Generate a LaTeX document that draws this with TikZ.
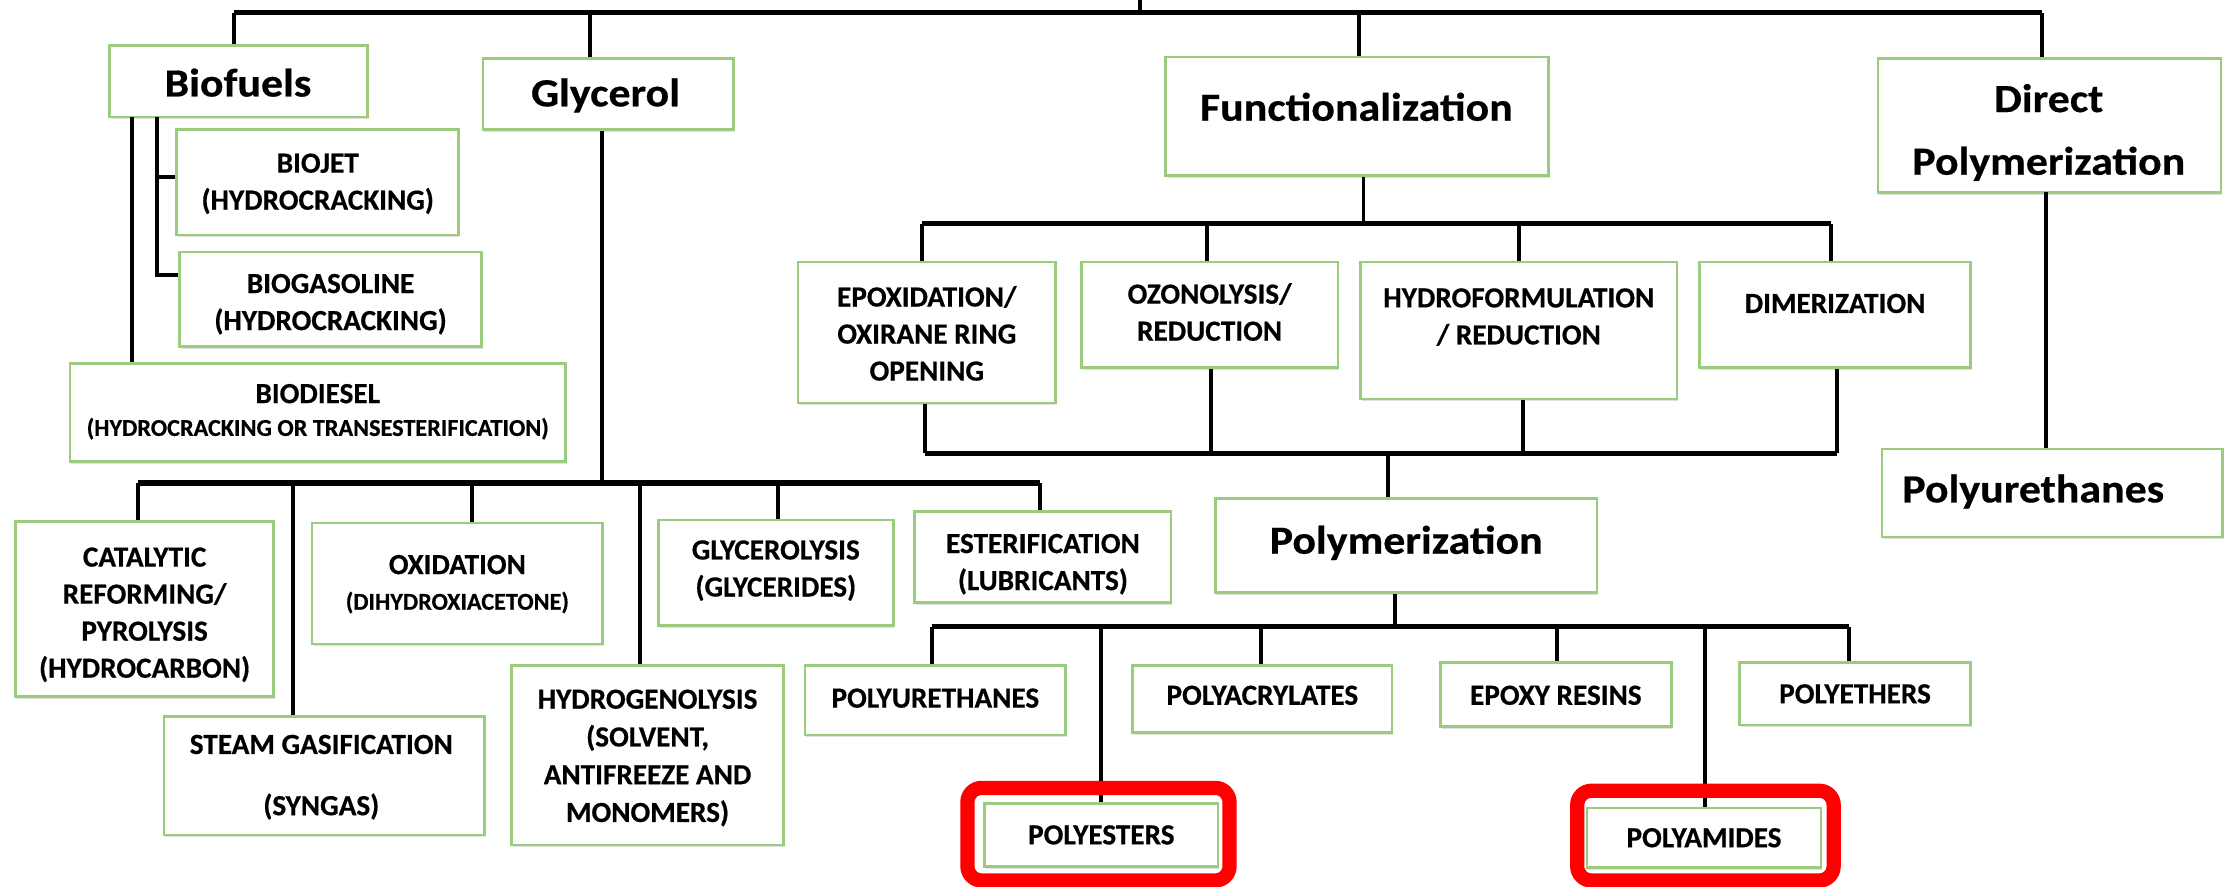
\documentclass[tikz,border=0pt]{standalone}
\usepackage{fontspec}
\setmainfont{Carlito}
\newfontfamily\bigfont{Carlito}[FakeStretch=1.1, BoldFeatures={FakeBold=0.5}]
\newfontfamily\smfont{Carlito}[BoldFeatures={FakeBold=0.5}]
\usetikzlibrary{fit,shadows}
\definecolor{boxgreen}{RGB}{155,204,125}
\definecolor{hired}{RGB}{255,0,0}
\tikzset{
  box/.style={draw=boxgreen, line width=1.8pt, fill=white, inner sep=0pt,
    drop shadow={shadow xshift=0.8pt, shadow yshift=-1.6pt, opacity=0.25, fill=black!45}},
  conn/.style={line width=2.8pt, black},
  bus/.style={line width=3.6pt, black},
  big/.style={font=\bigfont\bfseries\fontsize{28}{44}\selectfont, align=center, inner sep=0pt},
  sm/.style={font=\smfont\bfseries\fontsize{20.5}{26}\selectfont, align=center, inner sep=0pt},
  hl/.style={draw=hired, line width=10pt, rounded corners=10pt, inner sep=0pt},
}
\newcommand{\tny}{\fontsize{17}{20}\selectfont}
\begin{document}
\begin{tikzpicture}[x=1pt,y=-1pt]
\useasboundingbox[fill=white] (0,0) rectangle (1568,622);

% ---- boxes ----
\node[box, fit={(77,32)(258,82)}] (biofuels) {};
\node[box, fit={(339,41)(515,91)}] (glycerol) {};
\node[box, fit={(818,40)(1087,123)}] (functionalization) {};
\node[box, fit={(1318,41)(1559,135)}] (direct) {};
\node[box, fit={(124,91)(322,165)}] (biojet) {};
\node[box, fit={(126,177)(338,243)}] (biogasoline) {};
\node[box, fit={(49,255)(397,324)}] (biodiesel) {};
\node[box, fit={(11,366)(192,489)}] (catalytic) {};
\node[box, fit={(115,503)(340,586)}] (steam) {};
\node[box, fit={(219,367)(423,452)}] (oxidation) {};
\node[box, fit={(359,467)(550,593)}] (hydrogenolysis) {};
\node[box, fit={(462,365)(627,439)}] (glycerolysis) {};
\node[box, fit={(642,359)(822,423)}] (esterification) {};
\node[box, fit={(560,184)(741,283)}] (epox) {};
\node[box, fit={(759,184)(939,258)}] (ozon) {};
\node[box, fit={(955,184)(1177,280)}] (hydrof) {};
\node[box, fit={(1193,184)(1383,258)}] (dimer) {};
\node[box, fit={(853,350)(1121,416)}] (polymerization) {};
\node[box, fit={(1321,315)(1560,377)}] (pubig) {};
\node[box, fit={(565,467)(748,516)}] (pu) {};
\node[box, fit={(691,564)(855,608)}] (polyesters) {};
\node[box, fit={(795,467)(977,514)}] (polyacrylates) {};
\node[box, fit={(1011,465)(1173,510)}] (epoxy) {};
\node[box, fit={(1114,567)(1278,609)}] (polyamides) {};
\node[box, fit={(1221,465)(1383,509)}] (polyethers) {};

% ---- texts ----
\node[big] (t1) at (167,58) {Biofuels};
\node[big] (t2) at (425,67) {Glycerol};
\node[big] (t3) at (952,75) {Functionalization};
\node[big] (t4) at (1438,93) {Direct\\Polymerization};
\node[big, anchor=west] (t5) at (1335,345) {Polyurethanes};
\node[big] (t6) at (987,381) {Polymerization};

\node[sm] (s1) at (223,129) {BIOJET\\(HYDROCRACKING)};
\node[sm] (s2) at (232,213.5) {BIOGASOLINE\\(HYDROCRACKING)};
\node[sm, font=\smfont\bfseries\fontsize{20.5}{23}\selectfont] (s3) at (223,289) {BIODIESEL\\{\tny (HYDROCRACKING OR TRANSESTERIFICATION)}};
\node[sm] (s4) at (101.5,431.5) {CATALYTIC\\REFORMING/\\PYROLYSIS\\(HYDROCARBON)};
\node[sm] (s5) at (225.5,545.5) {STEAM GASIFICATION\\[17pt](SYNGAS)};
\node[sm, font=\smfont\bfseries\fontsize{20.5}{25}\selectfont] (s6) at (321,410) {OXIDATION\\{\tny (DIHYDROXIACETONE)}};
\node[sm, font=\smfont\bfseries\fontsize{20.5}{26.5}\selectfont] (s7) at (454.5,532) {HYDROGENOLYSIS\\(SOLVENT,\\ANTIFREEZE AND\\MONOMERS)};
\node[sm] (s8) at (544.5,400.5) {GLYCEROLYSIS\\(GLYCERIDES)};
\node[sm] (s9) at (732,396) {ESTERIFICATION\\(LUBRICANTS)};
\node[sm] (s10) at (650.5,234) {EPOXIDATION/\\OXIRANE RING\\OPENING};
\node[sm] (s11) at (849,219) {OZONOLYSIS/\\REDUCTION};
\node[sm] (s12) at (1066,222.5) {HYDROFORMULATION\\/ REDUCTION};
\node[sm] (s13) at (1288,213) {DIMERIZATION};
\node[sm] (s14) at (656.5,490) {POLYURETHANES};
\node[sm] (s15) at (773,586) {POLYESTERS};
\node[sm] (s16) at (886,488) {POLYACRYLATES};
\node[sm] (s17) at (1092,488) {EPOXY RESINS};
\node[sm] (s18) at (1196,588) {POLYAMIDES};
\node[sm] (s19) at (1302,487) {POLYETHERS};

% ---- top level ----
\coordinate (root) at (800,0);
\coordinate (topL) at (164,9);
\coordinate (topR) at (1433,9);
\coordinate (jGly) at (414,9);
\coordinate (jFun) at (954,9);
\draw[bus] (topL) -- (topR);
\draw[conn] (root) -- (root |- topL);
\draw[conn] (topL) -- (topL |- biofuels.north);
\draw[conn] (jGly) -- (jGly |- glycerol.north);
\draw[conn] (jFun) -- (jFun |- functionalization.north);
\draw[conn] (topR) -- (topR |- direct.north);

% ---- biofuels ----
\coordinate (bfA) at (92.5,82);
\coordinate (bfB) at (110,82);
\draw[conn] (bfA) -- (bfA |- biodiesel.north);
\draw[conn] (bfB) |- ([yshift=4pt]biojet.west);
\draw[conn] (bfB) |- ([yshift=17pt]biogasoline.west);

% ---- glycerol ----
\coordinate (gbL) at (97,339);
\coordinate (gbR) at (730,339);
\coordinate (gDown) at (422.6,339);
\draw[conn] (gDown |- glycerol.south) -- (gDown);
\draw[bus] (gbL) -- (gbR);
\coordinate (jSteam) at (205.5,339);
\coordinate (jOx) at (331,339);
\coordinate (jHyd) at (449,339);
\coordinate (jGlys) at (546,339);
\draw[conn] (gbL) -- (gbL |- catalytic.north);
\draw[conn] (jSteam) -- (jSteam |- steam.north);
\draw[conn] (jOx) -- (jOx |- oxidation.north);
\draw[conn] (jHyd) -- (jHyd |- hydrogenolysis.north);
\draw[conn] (jGlys) -- (jGlys |- glycerolysis.north);
\draw[conn] (gbR) -- (gbR |- esterification.north);

% ---- functionalization ----
\coordinate (fbL) at (647,157);
\coordinate (fbR) at (1285,157);
\coordinate (fDown) at (957,157);
\coordinate (jOz) at (847,157);
\coordinate (jHf) at (1066,157);
\draw[conn] (fDown |- functionalization.south) -- (fDown);
\draw[bus] (fbL) -- (fbR);
\draw[conn] (fbL) -- (fbL |- epox.north);
\draw[conn] (jOz) -- (jOz |- ozon.north);
\draw[conn] (jHf) -- (jHf |- hydrof.north);
\draw[conn] (fbR) -- (fbR |- dimer.north);

\coordinate (lbL) at (649,318);
\coordinate (lbR) at (1289,318);
\coordinate (lOz) at (850,318);
\coordinate (lHf) at (1069,318);
\coordinate (lDown) at (974,318);
\draw[bus] (lbL) -- (lbR);
\draw[conn] (lbL |- epox.south) -- (lbL);
\draw[conn] (lOz |- ozon.south) -- (lOz);
\draw[conn] (lHf |- hydrof.south) -- (lHf);
\draw[conn] (lbR |- dimer.south) -- (lbR);
\draw[conn] (lDown) -- (lDown |- polymerization.north);

% ---- polymerization ----
\coordinate (pbL) at (654,440);
\coordinate (pbR) at (1298,440);
\coordinate (pDown) at (979,440);
\coordinate (jPes) at (773,440);
\coordinate (jPac) at (885,440);
\coordinate (jEp) at (1093,440);
\coordinate (jPam) at (1197,440);
\draw[conn] (pDown |- polymerization.south) -- (pDown);
\draw[bus] (pbL) -- (pbR);
\draw[conn] (pbL) -- (pbL |- pu.north);
\draw[conn] (jPes) -- (jPes |- polyesters.north);
\draw[conn] (jPac) -- (jPac |- polyacrylates.north);
\draw[conn] (jEp) -- (jEp |- epoxy.north);
\draw[conn] (jPam) -- (jPam |- polyamides.north);
\draw[conn] (pbR) -- (pbR |- polyethers.north);

% ---- direct polymerization ----
\coordinate (dDown) at (1436,135);
\draw[conn] (dDown) -- (dDown |- pubig.north);

% ---- highlights ----
\node[hl, fit={(679,553)(863,618)}] (hl1) {};
\node[hl, fit={(1107,555)(1287,618)}] (hl2) {};
\end{tikzpicture}
\end{document}
